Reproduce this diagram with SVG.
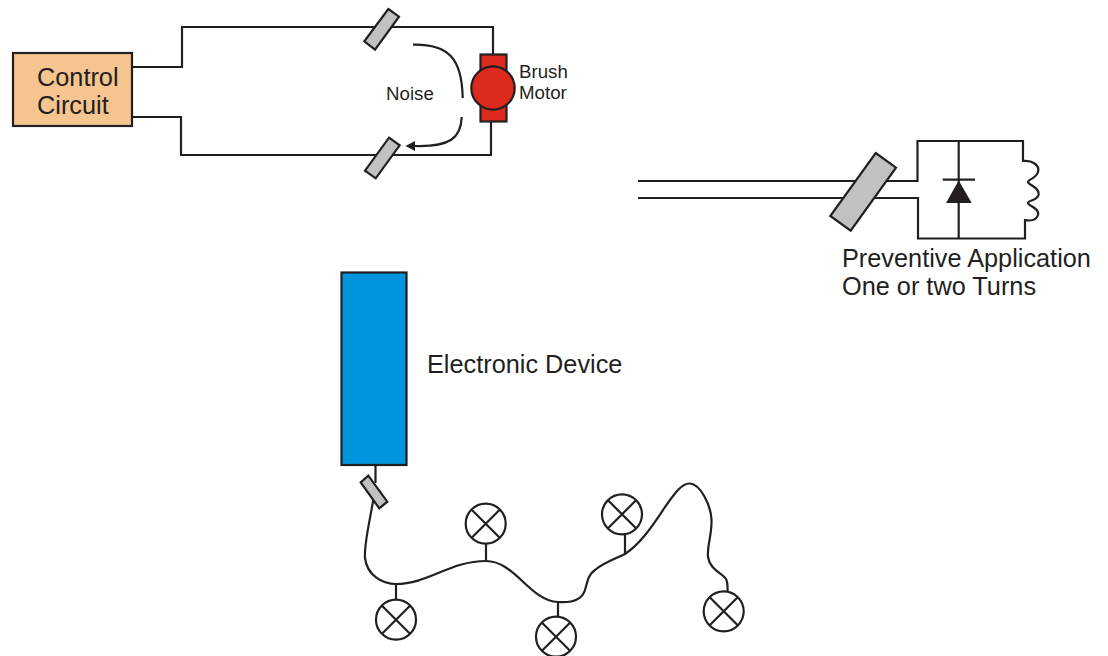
<svg xmlns="http://www.w3.org/2000/svg" width="1108" height="656" viewBox="0 0 1108 656">
<style>
.w{fill:none;stroke:#231f20;stroke-width:2.200;stroke-linejoin:miter}
.f{fill:#c1c1c1;stroke:#231f20;stroke-width:2.200}
.x{fill:#fff;stroke:#231f20;stroke-width:2.200}
text{font-family:"Liberation Sans",Arial,sans-serif;fill:#231f20}
.l{font-size:25.300px}.s{font-size:18.700px}
</style>
<defs>
<g id="lamp"><circle r="20" class="x"/><path class="w" d="M-14,-14L14,14M14,-14L-14,14"/></g>
</defs>
<rect width="1108" height="656" fill="#fff"/>
<g id="connectors">
<path class="w" d="M132,67H182V27H493V55"/>
<path class="w" d="M132,117H181V155H491V121"/>
<path class="w" d="M413,44.700C448,44 462,58 462.700,98"/>
<path class="w" d="M461.700,117C461,138 450,147 415,146"/>
<path d="M405.500,146L415,141V151Z" fill="#231f20"/>
<path class="w" d="M638,181H917.500V141H1023V161C1032,160 1040,165 1038,172C1036,179 1028,179 1028,182C1028,185 1040,187 1038.500,195C1037,201 1028,200 1028,203C1028,206 1040,208 1038,215C1036,221 1030,221 1025,220V238.500H918V198H638"/>
<path class="w" d="M958.700,141V238.500"/>
<path class="w" d="M942.700,179.700H975"/>
<path d="M958.700,180.500L971.700,203H946Z" fill="#231f20"/>
<path class="w" d="M375.500,465V483"/>
<path class="w" d="M373.300,500C368,530 364,545 365,558C367,575 382,584 396,584C428,584 450,561 486,561C515,561 530,601 558,602C572,603 582,600 585,590C588,580 588,575 595,570C603,563 615,559 625,554C640,544 652,527 665,507C675,493 682,483 690,483.500C700,484 711,505 711.500,520C712,535 707,545 708,557C710,570 722,573 726,579C728,583 727.700,587 727.500,592"/>
<path class="w" d="M396,584V600M486,561V544M558,602V617M625,554V534"/>
</g>
<g id="control-circuit"><rect x="13" y="53" width="119" height="73" fill="#f5c48f" stroke="#231f20" stroke-width="2.200"/><text class="l" x="37" y="86">Control</text><text class="l" x="37" y="114">Circuit</text></g>
<g id="ferrite-top"><polygon class="f" points="388.300,9 399,16.700 375,49.700 364.300,41.300"/></g>
<g id="ferrite-bottom"><polygon class="f" points="389,137.700 399.700,145.300 375.700,178.300 365,170.700"/></g>
<g id="brush-motor"><rect x="480.500" y="54.500" width="26" height="67" fill="#dd2a1e" stroke="#231f20" stroke-width="2.200"/><circle cx="493" cy="88" r="21.700" fill="#dd2a1e" stroke="#231f20" stroke-width="2.200"/><text class="s" x="519" y="78">Brush</text><text class="s" x="519" y="99">Motor</text></g>
<g id="noise-label"><text class="s" x="386" y="99.500">Noise</text></g>
<g id="ferrite-preventive"><polygon class="f" points="875.700,153 896,167.700 850.700,230.700 830.300,216"/></g>
<g id="preventive-label"><text class="l" x="842" y="267">Preventive Application</text><text class="l" x="842" y="295">One or two Turns</text></g>
<g id="electronic-device"><rect x="341.500" y="272.500" width="65" height="192.500" fill="#0095dd" stroke="#231f20" stroke-width="2.200"/><text class="l" x="427" y="373">Electronic Device</text></g>
<g id="ferrite-device"><polygon class="f" points="368.300,475.700 387.300,501.700 379.300,508.300 360.700,482.300"/></g>
<g id="lamp-1"><use href="#lamp" x="396" y="619.700"/></g>
<g id="lamp-2"><use href="#lamp" x="485.700" y="523.700"/></g>
<g id="lamp-3"><use href="#lamp" x="556" y="636.700"/></g>
<g id="lamp-4"><use href="#lamp" x="622" y="514.300"/></g>
<g id="lamp-5"><use href="#lamp" x="723.700" y="611.300"/></g>
</svg>
